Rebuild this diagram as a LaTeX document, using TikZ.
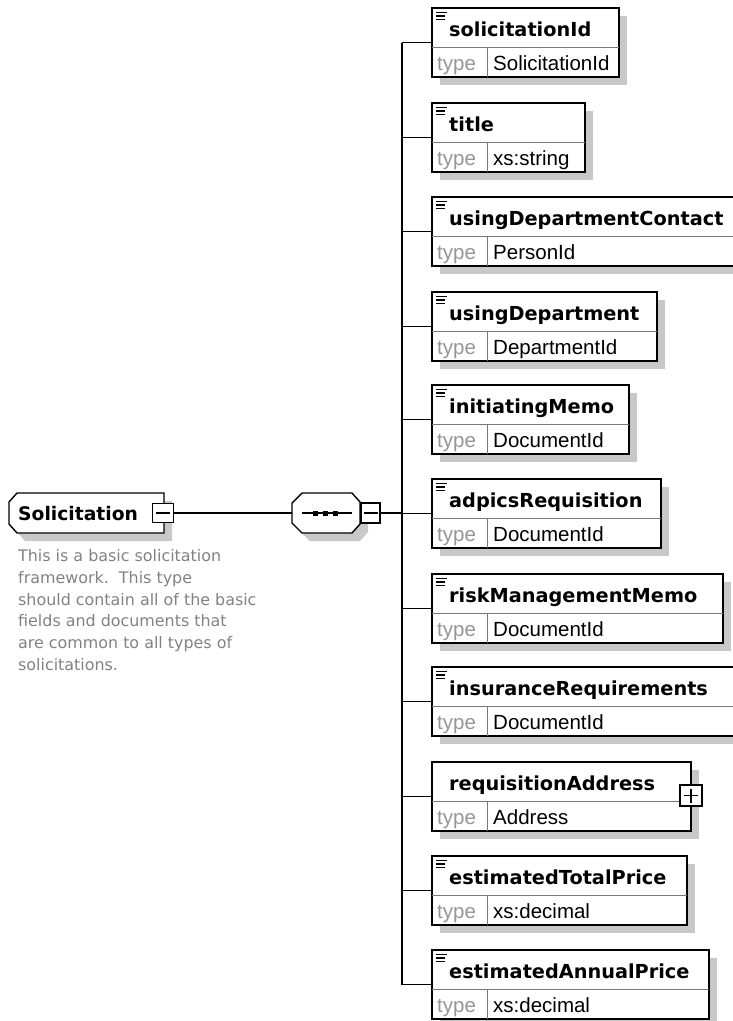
\documentclass[tikz,border=0pt]{standalone}
\usepackage{fontspec}
\setmainfont{Liberation Sans}
\newfontfamily\xsdhead{DejaVu Sans}
\usepackage{xcolor}
\definecolor{xsdgray}{RGB}{150,150,150}
\definecolor{xsdline}{RGB}{120,120,120}
\definecolor{xsdshadow}{RGB}{200,200,200}
\definecolor{xsdnote}{RGB}{130,130,130}
\usetikzlibrary{shadows}

% element box: #1 node name, #2 top, #3 width, #4 element name, #5 type
\newcommand{\xsdelem}[5]{%
  \node[elembox, minimum width=#3] (#1) at (\bx,#2) {};
  \draw[divline] ([yshift=-39pt]#1.north west) -- ([yshift=-39pt]#1.north east);
  \draw[divline] ([xshift=55pt]#1.south west) -- ([xshift=55pt,yshift=-39pt]#1.north west);
  \node[headlabel] (#1-name) at ([xshift=17pt,yshift=-28pt]#1.north west) {#4};
  \node[typekey] (#1-key) at ([xshift=5pt,yshift=7pt]#1.south west) {type};
  \node[typeval] (#1-type) at ([xshift=61pt,yshift=7pt]#1.south west) {#5};
  \draw[conn] (#1.west -| trunk) -- (#1.west);
}
% small list icon in the upper left corner of a box
\newcommand{\xsdicon}[1]{%
  \draw[iconline] ([xshift=4pt,yshift=-4.7pt]#1.north west) -- ++(11,0);
  \draw[iconline] ([xshift=4pt,yshift=-8pt]#1.north west) -- ++(9,0);
  \draw[iconline] ([xshift=4pt,yshift=-11.3pt]#1.north west) -- ++(9,0);
}

\begin{document}
\begin{tikzpicture}[x=1pt, y=-1pt]
\useasboundingbox (0,0) rectangle (732,1021);

% === Parameters ===
\def\bx{432}      % left edge of the element boxes

\tikzset{
    conn/.style={line width=1.4pt, black},
    blockline/.style={line width=1.4pt, black},
    divline/.style={line width=1pt, xsdline},
    iconline/.style={line width=1.1pt, black},
    elembox/.style={draw, line width=1.4pt, fill=white, anchor=north west,
        minimum height=69, inner sep=0, outer sep=0,
        drop shadow={shadow xshift=8pt, shadow yshift=-8pt,
            fill=xsdshadow, opacity=1}},
    minusbox/.style={draw, line width=1.2pt, fill=white, inner sep=0, outer sep=0},
    headlabel/.style={font=\xsdhead\bfseries\fontsize{19.3}{22}\selectfont,
        anchor=base west, inner sep=0},
    typekey/.style={font=\fontsize{20.5}{24}\selectfont, text=xsdgray,
        anchor=base west, inner sep=0},
    typeval/.style={font=\fontsize{20.5}{24}\selectfont,
        anchor=base west, inner sep=0},
    rootlabel/.style={font=\xsdhead\bfseries\fontsize{18.7}{22}\selectfont,
        anchor=base west, inner sep=0},
    notetext/.style={font=\xsdhead\fontsize{15.9}{21.7}\selectfont, text=xsdnote,
        align=left, anchor=north west, inner sep=0}
}

% === Root element: Solicitation ===
\fill[xsdshadow] (25,501) -- (172,501) -- (172,541) -- (25,541) -- (17,532) -- (17,510) -- cycle;
\draw[blockline, fill=white] (17,493) -- (164,493) -- (164,533) -- (17,533)
    -- (9,524) -- (9,502) -- cycle;
\node[rootlabel] (root) at (18,520) {Solicitation};
\node[minusbox, minimum width=20.6, minimum height=19.7] (rootminus) at (163,513) {};
\draw[blockline] ([xshift=-7pt]rootminus.center) -- ([xshift=7pt]rootminus.center);

% annotation
\node[notetext] (rootnote) at (18,549.5) {This is a basic solicitation\\
    framework.\ \ This type\\
    should contain all of the basic\\
    fields and documents that\\
    are common to all types of\\
    solicitations.};

% === Sequence compositor ===
\fill[xsdshadow] (310,501) -- (360,501) -- (368,510) -- (368,532) -- (360,541)
    -- (310,541) -- (300,531) -- (300,511) -- cycle;
\draw[blockline, fill=white] (302,493) -- (352,493) -- (360,502) -- (360,524)
    -- (352,533) -- (302,533) -- (292,523) -- (292,503) -- cycle;
\node[inner sep=0, outer sep=0, minimum width=68, minimum height=40] (seq) at (326,513) {};
\draw[conn] (302,513) -- (352,513);
\fill (315.5,513) +(-2.5,-2.5) rectangle +(2.5,2.5);
\fill (325.5,513) +(-2.5,-2.5) rectangle +(2.5,2.5);
\fill (335.5,513) +(-2.5,-2.5) rectangle +(2.5,2.5);
\node[minusbox, minimum width=19, minimum height=20] (seqminus) at (370.5,513) {};
\draw[blockline] ([xshift=-7pt]seqminus.center) -- ([xshift=7pt]seqminus.center);

% connectors root -> sequence -> trunk
\coordinate (trunk) at (402,513);
\draw[conn] (rootminus.east) -- (seq.west);
\draw[conn] (seqminus.east) -- (trunk);

% === Child elements ===
\xsdelem{solId}{8}{187}{solicitationId}{SolicitationId}
\xsdicon{solId}
\xsdelem{title}{103}{153}{title}{xs:string}
\xsdicon{title}
\xsdelem{depContact}{197}{308}{usingDepartmentContact}{PersonId}
\xsdicon{depContact}
\xsdelem{dep}{292}{225}{usingDepartment}{DepartmentId}
\xsdicon{dep}
\xsdelem{initMemo}{385}{197}{initiatingMemo}{DocumentId}
\xsdicon{initMemo}
\xsdelem{adpics}{479}{229}{adpicsRequisition}{DocumentId}
\xsdicon{adpics}
\xsdelem{riskMemo}{574}{291}{riskManagementMemo}{DocumentId}
\xsdicon{riskMemo}
\xsdelem{insReq}{667}{304}{insuranceRequirements}{DocumentId}
\xsdicon{insReq}
\xsdelem{reqAddr}{762}{259}{requisitionAddress}{Address}
\xsdelem{totPrice}{856}{255}{estimatedTotalPrice}{xs:decimal}
\xsdicon{totPrice}
\xsdelem{annPrice}{950}{277}{estimatedAnnualPrice}{xs:decimal}
\xsdicon{annPrice}

% expand box of the complex type
\node[minusbox, minimum width=22, minimum height=21] (reqplus) at (691,795.5) {};
\draw[blockline] ([xshift=-7pt]reqplus.center) -- ([xshift=7pt]reqplus.center);
\draw[blockline] ([yshift=-7pt]reqplus.center) -- ([yshift=7pt]reqplus.center);

% vertical trunk of the sequence
\draw[conn] (trunk |- solId.west) -- (trunk |- annPrice.west);

\end{tikzpicture}
\end{document}
